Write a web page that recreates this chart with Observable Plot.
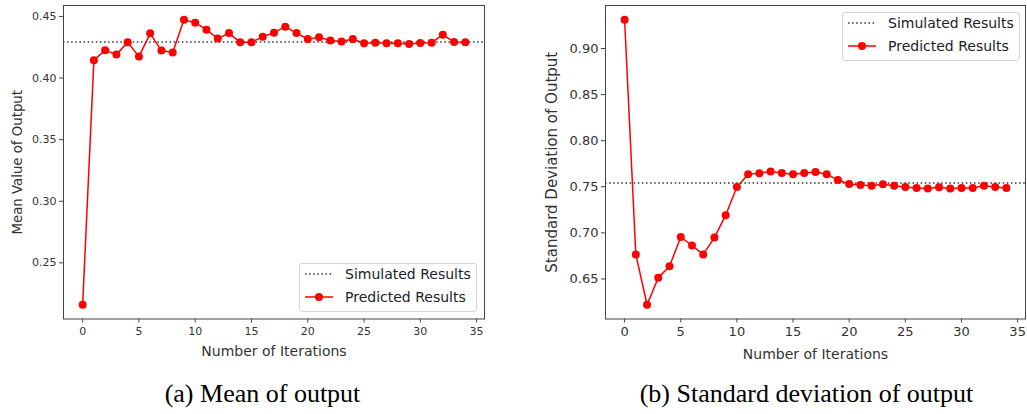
<!DOCTYPE html>
<html><head><meta charset="utf-8">
<script src="https://cdn.jsdelivr.net/npm/d3@7"></script>
<script src="https://cdn.jsdelivr.net/npm/@observablehq/plot@0.6"></script>
<style>
body{margin:0;background:#fff;}
#wrap{position:relative;width:1027px;height:414px;overflow:hidden;font-family:"DejaVu Sans",sans-serif;background:#fff;}
.panel{position:absolute;top:0;}
.pa g[aria-label="x-axis label"], .pa g[aria-label="x-axis label"] text{font-size:14px !important;}
.pa g[aria-label="y-axis label"], .pa g[aria-label="y-axis label"] text{font-size:13.3px !important;}
.pb g[aria-label="x-axis label"], .pb g[aria-label="x-axis label"] text{font-size:14px !important;}
.pb g[aria-label="y-axis label"], .pb g[aria-label="y-axis label"] text{font-size:15px !important;}
.legend{position:absolute;background:rgba(255,255,255,0.85);border:1px solid #d6d6d6;border-radius:3px;font-size:14px;color:#222;box-sizing:border-box;}
.legend .row{position:absolute;left:0;height:20px;display:flex;align-items:center;white-space:nowrap;}
.legend svg{margin-left:4px;margin-right:11px;}
.caption{position:absolute;font-family:"Liberation Serif","Times New Roman",serif;font-size:26px;line-height:26px;color:#000;white-space:nowrap;transform:translateX(-50%);}
</style></head>
<body><div id="wrap"></div>
<script>
const iterations = [0,1,2,3,4,5,6,7,8,9,10,11,12,13,14,15,16,17,18,19,20,21,22,23,24,25,26,27,28,29,30,31,32,33,34];
const meanPredicted = [0.216,0.4145,0.4225,0.419,0.429,0.4174,0.4363,0.4223,0.4207,0.4473,0.4449,0.4392,0.432,0.4365,0.429,0.429,0.4336,0.4368,0.4417,0.4365,0.4317,0.433,0.4304,0.4296,0.4317,0.4282,0.4287,0.4282,0.4282,0.4277,0.4285,0.4287,0.4352,0.4292,0.429];
const stdPredicted = [0.9312,0.6766,0.622,0.6514,0.6637,0.6955,0.6863,0.6766,0.6949,0.7192,0.7497,0.7637,0.7648,0.7665,0.765,0.7637,0.765,0.766,0.7637,0.7573,0.753,0.7519,0.7512,0.7527,0.7512,0.7498,0.7487,0.748,0.7495,0.748,0.7487,0.7487,0.7512,0.7498,0.7487];
const meanSimulated = 0.4292;
const stdSimulated = 0.754;
const xTicks = [0,5,10,15,20,25,30,35];
const meanTicks = [0.25,0.30,0.35,0.40,0.45];
const stdTicks = [0.65,0.70,0.75,0.80,0.85,0.90];
const xLabel = "Number of Iterations";
const meanLabel = "Mean Value of Output";
const stdLabel = "Standard Deviation of Output";
const seriesNames = ["Simulated Results","Predicted Results"];
const captions = ["(a) Mean of output","(b) Standard deviation of output"];

const wrap = document.getElementById("wrap");

function panel(opts){
  const data = iterations.map((x,i)=>({x, y: opts.values[i]}));
  const lo = d3.min(opts.values), hi = d3.max(opts.values), pad = (hi-lo)*0.05;
  const chart = Plot.plot({
    width: opts.width, height: 370,
    marginLeft: opts.marginLeft, marginRight: opts.marginRight, marginTop: 5, marginBottom: 51.5,
    x: {domain: [-1.7, 35.7]},
    y: {domain: [lo-pad, hi+pad]},
    style: {fontFamily: '"DejaVu Sans", sans-serif', fontSize: opts.tickFont + "px", color: "#333", background: "transparent"},
    marks: [
      Plot.axisX({ticks: xTicks, tickSize: 4, tickPadding: opts.xPad, tickFormat: d=>String(d), fontSize: opts.tickFont,
        label: xLabel, labelAnchor: "center", labelArrow: "none", labelOffset: opts.xLabelOffset, stroke: "#444"}),
      Plot.axisY({ticks: opts.ticks, tickSize: 4, tickPadding: 3, tickFormat: d3.format(".2f"), fontSize: opts.tickFont,
        label: opts.label, labelAnchor: "center", labelArrow: "none", labelOffset: opts.labelOffset, stroke: "#444"}),
      Plot.ruleY([opts.sim], {stroke: "#333", strokeWidth: 1.5, strokeDasharray: "1.5,2.6"}),
      Plot.line(data, {x: "x", y: "y", stroke: "#ff0000", strokeWidth: 1.5}),
      Plot.dot(data, {x: "x", y: "y", fill: "#ff0000", r: 4}),
      Plot.frame({stroke: "#444", strokeWidth: 1})
    ]
  });
  chart.classList.add("panel", opts.cls);
  chart.style.left = opts.left + "px";
  wrap.appendChild(chart);
}

panel({values: meanPredicted, sim: meanSimulated, ticks: meanTicks, label: meanLabel, cls: "pa",
  left: 0, width: 500, marginLeft: 63, marginRight: 16, labelOffset: 51, tickFont: 11, xPad: 4, xLabelOffset: 37});
panel({values: stdPredicted, sim: stdSimulated, ticks: stdTicks, label: stdLabel, cls: "pb",
  left: 520, width: 507, marginLeft: 85, marginRight: 2, labelOffset: 59, tickFont: 13, xPad: 4, xLabelOffset: 40});

function legend(left, top){
  const box = document.createElement("div");
  box.className = "legend";
  Object.assign(box.style, {left: left+"px", top: top+"px", width: "178px", height: "49px"});
  const rows = [
    `<svg width="30" height="10"><line x1="1" y1="5" x2="29" y2="5" stroke="#333" stroke-width="1.5" stroke-dasharray="1.5,2.6"/></svg>`,
    `<svg width="30" height="10"><line x1="1" y1="5" x2="29" y2="5" stroke="#ff0000" stroke-width="1.5"/><circle cx="15" cy="5" r="4" fill="#ff0000"/></svg>`
  ];
  rows.forEach((sw,i)=>{
    const r = document.createElement("div");
    r.className = "row";
    r.style.top = (0 + i*23) + "px";
    r.innerHTML = sw + `<span>${seriesNames[i]}</span>`;
    box.appendChild(r);
  });
  wrap.appendChild(box);
}
legend(299, 263);
legend(842, 12);

[[262.5, captions[0]],[806.5, captions[1]]].forEach(([cx, t])=>{
  const c = document.createElement("div");
  c.className = "caption";
  c.style.left = cx + "px";
  c.style.top = "381px";
  c.textContent = t;
  wrap.appendChild(c);
});
</script>
</body></html>
